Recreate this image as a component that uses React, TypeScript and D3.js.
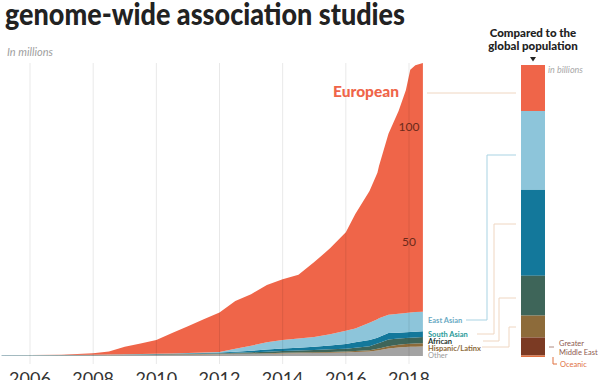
import React from "react";
import * as d3 from "d3";

const years = [2005.1, 2006, 2007, 2008, 2008.5, 2009, 2009.5, 2010, 2010.5, 2011, 2011.5, 2012, 2012.5, 2013, 2013.5, 2014, 2014.5, 2015, 2015.5, 2016, 2016.3, 2016.75, 2017, 2017.05, 2017.35, 2017.67, 2017.9, 2018.04, 2018.2, 2018.44];

// participants, in millions (per ancestry group)
const other = [0.2, 0.2, 0.25, 0.3, 0.35, 0.4, 0.45, 0.5, 0.55, 0.6, 0.7, 0.8, 0.85, 0.9, 1.0, 1.1, 1.2, 1.3, 1.4, 1.5, 1.7, 2.0, 2.4, 2.5, 3.3, 3.7, 3.9, 4.0, 4.0, 4.1];
const hispanic = [0.05, 0.05, 0.05, 0.05, 0.05, 0.1, 0.1, 0.1, 0.15, 0.15, 0.15, 0.2, 0.2, 0.2, 0.25, 0.3, 0.3, 0.3, 0.4, 0.5, 0.5, 0.5, 0.8, 0.8, 1.0, 1.2, 1.3, 1.4, 1.5, 1.5];
const african = [0, 0.05, 0.05, 0.05, 0.1, 0.1, 0.15, 0.2, 0.2, 0.25, 0.25, 0.2, 0.35, 0.5, 0.65, 0.8, 0.9, 1.0, 1.1, 1.2, 1.4, 1.8, 2.3, 2.4, 2.9, 2.7, 2.7, 2.6, 2.6, 2.7];
const southAsian = [0.05, 0.05, 0.05, 0.1, 0.1, 0.1, 0.1, 0.1, 0.1, 0.15, 0.2, 0.3, 0.5, 0.7, 0.9, 1.1, 1.2, 1.4, 1.7, 2.0, 2.4, 2.7, 2.5, 2.6, 2.8, 2.6, 2.5, 2.5, 2.5, 2.5];
const eastAsian = [0, 0.05, 0.05, 0.1, 0.1, 0.1, 0.1, 0.1, 0.1, 0.15, 0.2, 0.3, 1.3, 2.2, 3.2, 3.7, 4.0, 4.3, 4.9, 5.8, 6.0, 7.5, 8.0, 8.2, 8.0, 8.3, 8.4, 8.5, 8.6, 8.5];
const european = [0, 0, 0.15, 0.6, 1.3, 3.2, 4.6, 6, 8.9, 11.7, 14.5, 17.2, 20.8, 22.5, 25, 26.5, 27.9, 32.7, 37.5, 43, 50, 57.5, 64, 66.5, 79, 88.5, 97.2, 106, 107.8, 108.7];

const xTicks = [2006, 2008, 2010, 2012, 2014, 2016, 2018];
const yTicks = [50, 100];

// global population, in billions
const popGroups = ["European", "East Asian", "South Asian", "African", "Hispanic/Latinx", "Greater Middle East", "Oceanic"];
const popValues = [1.2, 2.06, 2.24, 1.04, 0.57, 0.47, 0.04];

const seriesKeys = ["other", "hispanic", "african", "southAsian", "eastAsian", "european"];
const colors: Record<string, string> = {
  other: "#a3a3a3",
  hispanic: "#8d6b3a",
  african: "#3e6559",
  southAsian: "#13789b",
  eastAsian: "#8dc5da",
  european: "#ef6549",
};
const popColors = ["#ef6549", "#8dc5da", "#13789b", "#3e6559", "#8d6b3a", "#7b3a23", "#e0703f"];

const table = years.map((yr, i) => ({
  year: yr,
  other: other[i],
  hispanic: hispanic[i],
  african: african[i],
  southAsian: southAsian[i],
  eastAsian: eastAsian[i],
  european: european[i],
}));

const FONT = "Lato, 'Open Sans', sans-serif";

export default function App() {
  const x = d3.scaleLinear().domain([2006, 2018]).range([30, 409]);
  const y = d3.scaleLinear().domain([0, 100]).range([356, 127]);
  const stack = d3.stack<any>().keys(seriesKeys);
  const layers = stack(table);
  const area = d3
    .area<any>()
    .x((d) => x(d.data.year))
    .y0((d) => y(d[0]))
    .y1((d) => y(d[1]))
    .curve(d3.curveLinear);

  const total = d3.sum(popValues);
  const yb = d3.scaleLinear().domain([0, total]).range([65, 357]);
  let acc = 0;
  const popSegs = popValues.map((v, i) => {
    const s = { y0: yb(acc), y1: yb(acc + v), color: popColors[i], name: popGroups[i] };
    acc += v;
    return s;
  });

  const peach = "#efd6c1";
  const lightBlue = "#a9d3e3";

  return (
    <svg width={600} height={380} style={{ position: "absolute", left: 0, top: 0, background: "#fff" }}>
      <text x={5} y={25} fontFamily={FONT} fontWeight={900} fontSize={31} fill="#222" textLength={400} lengthAdjust="spacingAndGlyphs">
        genome-wide association studies
      </text>
      <text x={7} y={56} fontFamily={FONT} fontStyle="italic" fontSize={11} fill="#a0a0a0">
        In millions
      </text>

      {layers.map((layer) => (
        <path key={layer.key} d={area(layer) || ""} fill={colors[layer.key]} />
      ))}

      {xTicks.map((t) => (
        <line key={t} x1={x(t)} x2={x(t)} y1={63} y2={364} stroke="#000" strokeOpacity={0.09} strokeWidth={1} />
      ))}
      {xTicks.map((t) => (
        <text key={"l" + t} x={x(t)} y={385} textAnchor="middle" fontFamily={FONT} fontSize={18} fill="#333">
          {t}
        </text>
      ))}
      {yTicks.map((t) => (
        <text key={"y" + t} x={x(2018)} y={y(t)} dy="0.35em" textAnchor="middle" fontFamily={FONT} fontSize={12} fill="#6b2a1a">
          {t}
        </text>
      ))}

      <text x={399} y={97} textAnchor="end" fontFamily={FONT} fontWeight={900} fontSize={15.5} fill="#ef6549">
        European
      </text>

      {/* series labels */}
      <text x={428} y={323} fontFamily={FONT} fontWeight={700} fontSize={7.5} fill="#6aaac4">East Asian</text>
      <text x={428} y={336.5} fontFamily={FONT} fontWeight={700} fontSize={7.5} fill="#2a9a98">South Asian</text>
      <text x={428} y={343.5} fontFamily={FONT} fontWeight={700} fontSize={7.5} fill="#24352e">African</text>
      <text x={428} y={350.5} fontFamily={FONT} fontWeight={700} fontSize={7.5} fill="#8d6b3a">Hispanic/Latinx</text>
      <text x={428} y={357.5} fontFamily={FONT} fontWeight={400} fontSize={7.5} fill="#9a9a9a">Other</text>

      {/* connectors */}
      <g fill="none" strokeWidth={1}>
        <polyline points="427,93 516,93" stroke={peach} />
        <polyline points="466,320 487,320 487,155 516,155" stroke={lightBlue} />
        <polyline points="477,334 494,334 494,224 516,224" stroke={peach} />
        <polyline points="483,341 499,341 499,298 516,298" stroke={peach} />
        <polyline points="482,347 509,347 509,327 516,327" stroke={peach} />
        <polyline points="549,347 554,347" stroke="#b08a80" />
        <polyline points="553,357 553,364 557,364" stroke="#e0703f" />
      </g>

      {/* population bar */}
      <text x={533} y={37} textAnchor="middle" fontFamily={FONT} fontWeight={900} fontSize={11.5} fill="#222">Compared to the</text>
      <text x={533} y={50} textAnchor="middle" fontFamily={FONT} fontWeight={900} fontSize={11.5} fill="#222">global population</text>
      <path d="M530,57 L536,57 L533,61.5 Z" fill="#222" />
      {popSegs.map((s) => (
        <rect key={s.name} x={521} y={s.y0} width={24} height={Math.max(0.5, s.y1 - s.y0)} fill={s.color} />
      ))}
      <text x={548} y={73} fontFamily={FONT} fontStyle="italic" fontSize={9} fill="#a8a8a8">in billions</text>
      <text x={559} y={346} fontFamily={FONT} fontSize={7.5} fill="#8e5a50">Greater</text>
      <text x={559} y={355} fontFamily={FONT} fontSize={7.5} fill="#8e5a50">Middle East</text>
      <text x={560} y={367} fontFamily={FONT} fontSize={7.5} fill="#e0703f">Oceanic</text>
    </svg>
  );
}
